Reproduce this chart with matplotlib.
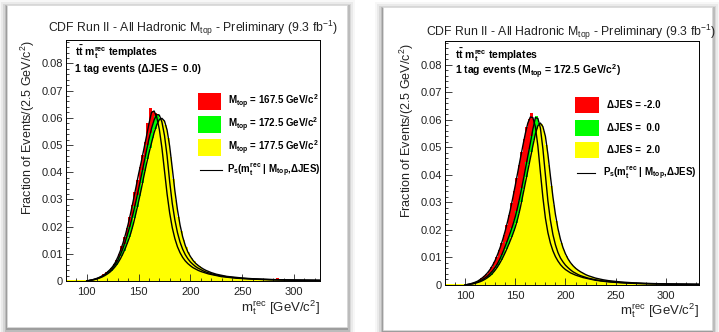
import numpy as np
import matplotlib.pyplot as plt
from matplotlib.patches import Rectangle
from matplotlib.lines import Line2D
from matplotlib.ticker import MultipleLocator, FuncFormatter

plt.rcParams['font.family'] = ['Liberation Sans', 'DejaVu Sans']
plt.rcParams['mathtext.fontset'] = 'custom'
plt.rcParams['mathtext.rm'] = 'Liberation Sans'
plt.rcParams['mathtext.it'] = 'Liberation Sans:italic'
plt.rcParams['mathtext.bf'] = 'Liberation Sans:bold'

W, H = 719, 332
SCALE = 1e-4  # all values below are in units of 1e-4

# histogram bins: 2.5 GeV from 80 to 335, fit curves sampled from 100 to 335
HIST_EDGES = np.arange(80, 335.1, 2.5)
CURVE_X = np.arange(100, 335.1, 2.5)

COLORS = ['#ff0000', '#00ff00', '#ffff00']

# ---- left panel: dJES = 0, Mtop = 167.5 / 172.5 / 177.5 ----
hist_red_left = [
    1, 2, 1, 2, 2, 1, 2, 1, 2, 4,
    6, 9, 12, 17, 24, 32, 37, 48, 62, 79,
    101, 128, 160, 195, 234, 278, 326, 372, 420, 463,
    512, 580, 636, 624, 616, 583, 527, 450, 362, 284,
    222, 177, 140, 114, 96, 81, 69, 61, 53, 47,
    42, 37, 33, 31, 27, 25, 23, 21, 19, 17,
    15.5, 14.5, 13.5, 12.5, 11.5, 10.5, 10, 9.5, 9, 8.5,
    8, 7.5, 7, 6.5, 6, 5.8, 5.5, 5.2, 5, 4.8,
    4.6, 10, 4.2, 4, 3.8, 3.6, 3.5, 3.3, 3.2, 3,
    2.9, 2.8, 2.7, 2.6, 2.5, 2.4, 2.3, 2.2, 2.1, 2, 2, 1.9,
]
hist_green_left = [
    1, 1, 2, 1, 1, 2, 1, 2, 1, 3,
    5, 8, 11, 15, 21, 28, 35, 43, 55, 69,
    88, 110, 136, 166, 199, 235, 275, 318, 362, 409,
    455, 501, 545, 580, 605, 614, 600, 562, 500, 414,
    327, 257, 202, 160, 130, 107, 89, 77, 65, 57,
    50, 45, 39, 35, 32, 28, 26, 23, 21, 19,
    17, 15, 13.8, 12.7, 11.8, 11, 10.2, 9.5, 8.9, 8.3,
    7.8, 7.3, 6.8, 6.4, 6, 5.8, 5.5, 5.1, 4.9, 4.6,
    4.4, 4.2, 4, 3.8, 3.6, 3.5, 3.3, 3.2, 3.1, 3,
    2.9, 2.8, 2.7, 2.6, 2.5, 2.4, 2.3, 2.2, 2.1, 2, 2, 1.9,
]
hist_yellow_left = [
    2, 2, 2, 2, 2, 2, 2, 2, 2, 3,
    4, 7, 10, 13, 18, 23, 30, 38, 48, 60,
    74, 92, 112, 136, 162, 193, 231, 271, 314, 360,
    405, 449, 489, 526, 560, 583, 596, 593, 572, 525,
    455, 374, 297, 234, 185, 150, 125, 108, 86, 72,
    62, 54, 47, 42, 37, 33, 30, 27, 24, 22,
    20, 18, 16.5, 15.5, 14.5, 13.5, 12.5, 11.5, 10.6, 10,
    9.3, 8.7, 8.1, 7.6, 7.2, 6.8, 6.4, 6, 5.7, 5.4,
    5.1, 4.9, 4.7, 4.5, 4.3, 4.1, 3.9, 3.7, 3.5, 3.4,
    3.3, 3.1, 3, 2.9, 2.8, 2.7, 2.6, 2.5, 2.4, 2.3, 2.2, 2.2,
]
curve_red_left = [
    0, 2, 4, 7, 10, 14, 19, 25, 33, 42,
    53, 68, 88, 112, 140, 173, 210, 252, 298, 345,
    393, 437, 483, 530, 578, 620, 625, 603, 558, 490,
    405, 320, 250, 196, 156, 126, 104, 87, 74, 64,
    56, 49, 44, 39, 35, 32, 29, 26, 24, 22,
    20, 18, 16, 15, 14, 13, 12, 11, 10, 9.5,
    9, 8.5, 8, 7.5, 7, 6.6, 6.2, 5.8, 5.5, 5.2,
    4.9, 4.6, 4.4, 4.2, 4.0, 3.8, 3.6, 3.4, 3.3, 3.1,
    3.0, 2.9, 2.8, 2.7, 2.6, 2.5, 2.4, 2.3, 2.2, 2.1,
    2.0, 1.9, 1.9, 1.8, 1.8,
]
curve_green_left = [
    0, 2, 4, 6, 9, 13, 18, 24, 31, 39,
    49, 61, 77, 97, 121, 149, 180, 214, 252, 294,
    338, 384, 430, 477, 522, 561, 592, 612, 610, 585,
    535, 460, 365, 285, 225, 178, 143, 117, 97, 82,
    70, 61, 53, 47, 42, 37, 33, 30, 27, 24,
    22, 20, 18, 17, 15.5, 14.3, 13.2, 12.2, 11.3, 10.5,
    9.8, 9.2, 8.6, 8.0, 7.5, 7.0, 6.6, 6.2, 5.9, 5.6,
    5.3, 5.0, 4.8, 4.5, 4.3, 4.1, 3.9, 3.7, 3.5, 3.4,
    3.2, 3.1, 3.0, 2.9, 2.8, 2.7, 2.6, 2.5, 2.4, 2.3,
    2.2, 2.1, 2.0, 2.0, 1.9,
]
curve_yellow_left = [
    0, 2, 3, 5, 8, 11, 15, 20, 26, 33,
    42, 53, 66, 82, 101, 123, 148, 176, 210, 250,
    292, 336, 383, 428, 470, 508, 545, 574, 593, 598,
    588, 555, 495, 415, 332, 262, 206, 163, 131, 107,
    90, 76, 65, 57, 50, 44, 39, 35, 31, 28,
    25, 23, 21, 19, 17, 16, 15, 14, 13, 12,
    11, 10.3, 9.6, 9.0, 8.4, 7.9, 7.4, 7.0, 6.6, 6.2,
    5.9, 5.6, 5.3, 5.0, 4.8, 4.6, 4.4, 4.2, 4.0, 3.8,
    3.6, 3.5, 3.4, 3.2, 3.1, 3.0, 2.9, 2.8, 2.7, 2.6,
    2.5, 2.4, 2.3, 2.2, 2.2,
]

# ---- right panel: Mtop = 172.5, dJES = -2 / 0 / +2 ----
hist_red_right = [
    1, 1, 2, 1, 2, 1, 2, 1, 2, 4,
    6, 9, 12, 18, 25, 32, 41, 52, 66, 82,
    103, 126, 153, 183, 217, 255, 298, 342, 388, 436,
    484, 530, 572, 604, 626, 594, 542, 460, 366, 282,
    218, 172, 138, 114, 95, 81, 69, 61, 54, 47,
    42, 38, 34, 31, 28, 26, 24, 22, 20, 18,
    16, 15, 14, 13, 12, 11, 10.4, 9.7, 9.1, 8.5,
    8, 7.5, 7, 6.6, 6.2, 5.9, 5.6, 5.3, 5, 4.7,
    4.5, 4.2, 4, 3.8, 3.6, 3.5, 3.3, 3.2, 3.1, 3,
    2.9, 2.8, 2.7, 2.6, 2.5, 2.4, 2.3, 2.2, 2.1, 2, 2, 1.9,
]
hist_green_right = [
    1, 2, 1, 1, 2, 1, 1, 2, 1, 3,
    4, 7, 10, 13, 18, 23, 29, 38, 47, 58,
    72, 89, 109, 131, 155, 180, 206, 235, 268, 307,
    351, 397, 445, 493, 542, 589, 614, 590, 534, 450,
    354, 272, 210, 166, 133, 109, 92, 79, 68, 59,
    52, 46, 41, 36, 33, 29, 27, 24, 22, 20,
    18, 17, 15.5, 14.5, 13.5, 12.5, 11.6, 10.8, 10, 9.4,
    8.8, 8.2, 7.7, 7.2, 6.8, 6.4, 6, 5.7, 5.4, 5.1,
    4.9, 4.7, 4.5, 4.3, 4.1, 3.9, 3.7, 3.6, 3.4, 3.3,
    3.1, 3, 2.9, 2.8, 2.7, 2.6, 2.5, 2.4, 2.3, 2.2, 2.2, 2.1,
]
hist_yellow_right = [
    2, 2, 2, 2, 2, 2, 2, 2, 2, 2,
    4, 5, 8, 11, 14, 19, 24, 30, 38, 48,
    60, 74, 90, 109, 129, 150, 173, 197, 226, 261,
    303, 348, 393, 438, 483, 527, 565, 585, 584, 560,
    510, 437, 360, 290, 234, 188, 153, 128, 106, 89,
    76, 66, 58, 51, 46, 41, 37, 33, 30, 27,
    24, 22, 20, 18.5, 17, 15.5, 14.5, 13.5, 12.5, 11.6,
    10.9, 10.2, 9.5, 8.9, 8.4, 7.9, 7.4, 7, 6.6, 6.3,
    6, 5.7, 5.4, 5.1, 4.9, 4.7, 4.5, 4.3, 4.1, 4,
    3.8, 3.7, 3.6, 3.5, 3.4, 3.3, 3.2, 3.1, 3, 2.9, 2.8, 2.8,
]
curve_red_right = [
    0, 2, 4, 7, 10, 14, 20, 27, 35, 45,
    57, 72, 90, 112, 137, 165, 197, 233, 272, 316,
    362, 410, 458, 505, 550, 588, 610, 608, 575, 505,
    410, 318, 243, 190, 152, 124, 103, 87, 74, 64,
    56, 50, 44, 40, 36, 33, 30, 27, 25, 23,
    21, 19, 17, 16, 14.5, 13.5, 12.5, 11.5, 10.7, 10,
    9.4, 8.8, 8.2, 7.7, 7.2, 6.8, 6.4, 6.0, 5.7, 5.4,
    5.1, 4.8, 4.6, 4.3, 4.1, 3.9, 3.7, 3.5, 3.4, 3.2,
    3.1, 3.0, 2.9, 2.8, 2.7, 2.6, 2.5, 2.4, 2.3, 2.2,
    2.1, 2.0, 2.0, 1.9, 1.9,
]
curve_green_right = [
    0, 2, 3, 5, 8, 11, 15, 20, 26, 33,
    42, 52, 64, 79, 97, 118, 141, 165, 190, 217,
    248, 285, 327, 373, 420, 468, 515, 565, 608, 605,
    570, 495, 400, 305, 235, 183, 146, 118, 98, 84,
    72, 63, 55, 48, 43, 38, 34, 31, 28, 25,
    23, 21, 19, 17.5, 16, 15, 14, 13, 12, 11.2,
    10.4, 9.7, 9.1, 8.5, 8, 7.5, 7, 6.6, 6.2, 5.9,
    5.6, 5.3, 5.0, 4.8, 4.6, 4.4, 4.2, 4.0, 3.8, 3.6,
    3.5, 3.4, 3.2, 3.1, 3.0, 2.9, 2.8, 2.7, 2.6, 2.5,
    2.4, 2.3, 2.2, 2.2, 2.1,
]
curve_yellow_right = [
    0, 1, 3, 4, 6, 9, 12, 16, 21, 27,
    34, 43, 54, 67, 82, 99, 118, 139, 161, 184,
    210, 242, 280, 325, 370, 415, 460, 505, 548, 578,
    588, 575, 540, 475, 395, 320, 256, 205, 166, 136,
    113, 95, 81, 70, 61, 54, 48, 43, 38, 34,
    31, 28, 25, 23, 21, 19, 17.5, 16, 15, 14,
    13, 12, 11.2, 10.5, 9.8, 9.2, 8.6, 8.1, 7.6, 7.2,
    6.8, 6.4, 6.1, 5.8, 5.5, 5.2, 5.0, 4.8, 4.6, 4.4,
    4.2, 4.0, 3.9, 3.7, 3.6, 3.5, 3.4, 3.3, 3.2, 3.1,
    3.0, 2.9, 2.8, 2.7, 2.7,
]

TITLE = r"CDF Run II - All Hadronic M$_{\mathrm{top}}$ - Preliminary (9.3 fb$^{\mathrm{-1}}$)"
YLABEL = r"Fraction of Events/(2.5 GeV/c$^{\mathrm{2}}$)"
XLABEL = r"m$_{\mathrm{t}}^{\mathrm{rec}}$ [GeV/c$^{\mathrm{2}}$]"
INFO_1 = r"$\mathbf{t\bar{t}}$ $\mathbf{m}_{\mathbf{t}}^{\mathbf{rec}}$ templates"
INFO_2_LEFT = "1 tag events (ΔJES =  0.0)"
INFO_2_RIGHT = r"1 tag events (M$_{\mathbf{top}}$ = 172.5 GeV/c$^{\mathbf{2}}$)"
LABELS_LEFT = [r"M$_{\mathbf{top}}$ = 167.5 GeV/c$^{\mathbf{2}}$",
               r"M$_{\mathbf{top}}$ = 172.5 GeV/c$^{\mathbf{2}}$",
               r"M$_{\mathbf{top}}$ = 177.5 GeV/c$^{\mathbf{2}}$"]
LABELS_RIGHT = ["ΔJES = -2.0", "ΔJES =  0.0", "ΔJES =  2.0"]
CURVE_LABEL = r"P$_{\mathbf{s}}$(m$_{\mathbf{t}}^{\mathbf{rec}}$ | M$_{\mathbf{top}}$,ΔJES)"


def fx(px):
    return px / W


def fy(py):
    return 1 - py / H


fig = plt.figure(figsize=(W / 100, H / 100), dpi=100)
fig.patch.set_facecolor('white')


def draw_card(x0, y0, x1, y1):
    """white card with a soft drop shadow (pixel coords, y down)"""
    for grow, drop, alpha in [(8, 3, 0.03), (6, 3, 0.05), (4, 3, 0.08), (2.5, 2.5, 0.12), (1.2, 2, 0.16)]:
        fig.add_artist(Rectangle((fx(x0 - grow), fy(y1 + grow + drop)),
                                 (x1 - x0 + 2 * grow) / W, (y1 - y0 + 2 * grow) / H,
                                 transform=fig.transFigure, facecolor='black',
                                 edgecolor='none', alpha=alpha, zorder=-3))
    fig.add_artist(Rectangle((fx(x0), fy(y1)), (x1 - x0) / W, (y1 - y0) / H,
                             transform=fig.transFigure, facecolor='white',
                             edgecolor='#dcdcdc', lw=0.5, zorder=-2))


def draw_panel(ax, hists, curves, labels, info2, xmax, leg):
    for vals, color in zip(hists, COLORS):
        ax.stairs(np.array(vals) * SCALE, HIST_EDGES, fill=True, color=color, lw=0)
    for vals in curves:
        ax.plot(CURVE_X, np.array(vals) * SCALE, color='black', lw=1.0)

    ax.set_xlim(80, xmax)
    ax.set_ylim(0, 0.0886)
    ax.xaxis.set_major_locator(MultipleLocator(50))
    ax.xaxis.set_minor_locator(MultipleLocator(10))
    ax.yaxis.set_major_locator(MultipleLocator(0.01))
    ax.yaxis.set_minor_locator(MultipleLocator(0.002))
    ax.yaxis.set_major_formatter(FuncFormatter(lambda v, p: "0" if abs(v) < 1e-9 else f"{v:.2f}"))
    ax.tick_params(which='both', direction='in', top=False, right=False,
                   labelsize=8, colors='#222222', width=0.6)
    ax.tick_params(which='major', length=5)
    ax.tick_params(which='minor', length=2.5)
    ax.tick_params(axis='x', pad=4)
    ax.tick_params(axis='y', pad=2)
    for s in ax.spines.values():
        s.set_linewidth(0.7)

    # info text
    ax.text(leg['info_x'], leg['info_y'][0], INFO_1, transform=ax.transAxes,
            fontsize=7.5, fontweight='bold', va='center', ha='left')
    ax.text(leg['info_x'], leg['info_y'][1], info2, transform=ax.transAxes,
            fontsize=7.5, fontweight='bold', va='center', ha='left')

    # legend drawn by hand
    bx0, bx1 = leg['box_x']
    bh = leg['box_h']
    for yc, color, lab in zip(leg['rows'], COLORS, labels):
        ax.add_patch(Rectangle((bx0, yc - bh / 2), bx1 - bx0, bh, transform=ax.transAxes,
                               facecolor=color, edgecolor='none', zorder=5))
        ax.text(leg['text_x'], yc, lab, transform=ax.transAxes, fontsize=7,
                fontweight='bold', va='center', ha='left', zorder=5)
    lx0, lx1 = leg['line_x']
    ax.add_line(Line2D([lx0, lx1], [leg['line_y'], leg['line_y']], transform=ax.transAxes,
                       color='black', lw=0.8, zorder=5))
    ax.text(leg['line_text_x'], leg['line_y'], CURVE_LABEL, transform=ax.transAxes,
            fontsize=7, fontweight='bold', va='center', ha='left', zorder=5)


draw_card(7, 5, 347, 327)
draw_card(383, 7, 712, 330)

ax_left = fig.add_axes([fx(66), fy(281), 254 / W, 241 / H])
ax_right = fig.add_axes([fx(445), fy(285), 254 / W, 244 / H])

draw_panel(ax_left,
           [hist_red_left, hist_green_left, hist_yellow_left],
           [curve_red_left, curve_green_left, curve_yellow_left],
           LABELS_LEFT, INFO_2_LEFT, 325,
           dict(info_x=0.035, info_y=(0.950, 0.880),
                box_x=(0.520, 0.610), box_h=0.07, rows=(0.744, 0.649, 0.554),
                text_x=0.638, line_x=(0.528, 0.614), line_y=0.461, line_text_x=0.634))
draw_panel(ax_right,
           [hist_red_right, hist_green_right, hist_yellow_right],
           [curve_red_right, curve_green_right, curve_yellow_right],
           LABELS_RIGHT, INFO_2_RIGHT, 333,
           dict(info_x=0.039, info_y=(0.943, 0.873),
                box_x=(0.512, 0.606), box_h=0.066, rows=(0.739, 0.642, 0.555),
                text_x=0.637, line_x=(0.518, 0.590), line_y=0.460, line_text_x=0.621))

# titles and axis labels, placed like the ROOT canvas
fig.text(fx(192.5), fy(28), TITLE, ha='center', va='center', fontsize=8.8, color='#222222')
fig.text(fx(570.5), fy(32), TITLE, ha='center', va='center', fontsize=8.8, color='#222222')
fig.text(fx(28), fy(40), YLABEL, rotation=90, ha='center', va='top', fontsize=9, color='#222222')
fig.text(fx(407), fy(43), YLABEL, rotation=90, ha='center', va='top', fontsize=9, color='#222222')
fig.text(fx(320), fy(308), XLABEL, ha='right', va='center', fontsize=9.5, color='#222222')
fig.text(fx(699), fy(311), XLABEL, ha='right', va='center', fontsize=9.5, color='#222222')

fig.savefig('out.png', dpi=100)
